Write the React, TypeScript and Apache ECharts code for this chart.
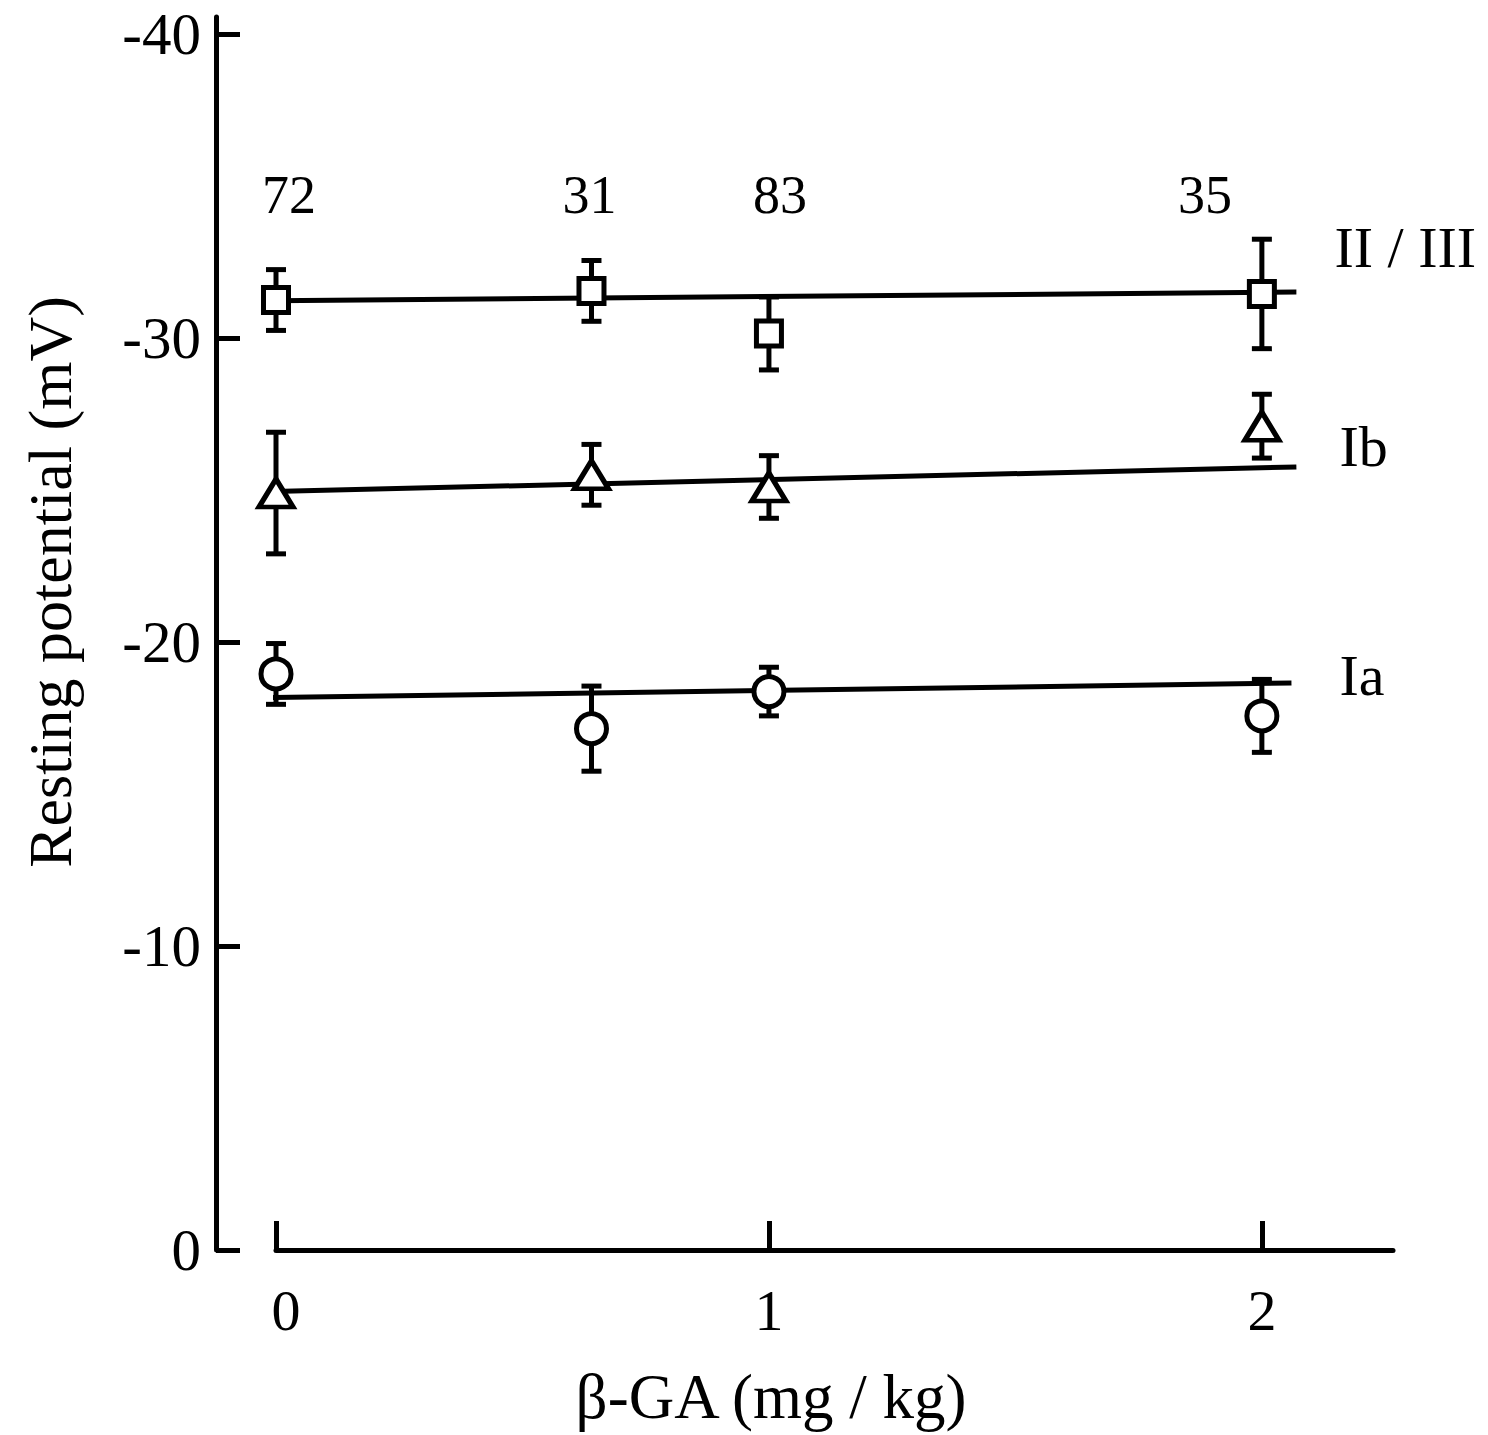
import React, { useEffect, useRef } from "react";
import * as echarts from "echarts";

// ---- data ----
const doses = [0, 0.64, 1, 2];
const nCounts = [72, 31, 83, 35];

const grpIIIIIMean = [-31.25, -31.55, -30.15, -31.45];
const grpIIIIIErr = [1.0, 1.0, 1.2, 1.8];

const grpIbMean = [-24.9, -25.5, -25.1, -27.1];
const grpIbErr = [2.0, 1.0, 1.03, 1.05];

const grpIaMean = [-18.95, -17.15, -18.37, -17.57];
const grpIaErr = [1.0, 1.4, 0.8, 1.2];

// regression lines: [x, y] at both ends
const fitIIIII = [[-0.067, -31.22], [2.07, -31.51]];
const fitIb = [[-0.057, -24.93], [2.07, -25.76]];
const fitIa = [[-0.065, -18.16], [2.06, -18.65]];

const yTicks = [-40, -30, -20, -10, 0];
const xTicks = [0, 1, 2];

const FONT = "'Liberation Serif', 'Times New Roman', serif";

function errorBarSeries(name: string, means: number[], errs: number[]) {
  return {
    type: "custom",
    name: name + "-err",
    z: 2,
    clip: false,
    data: doses.map((d, i) => [d, means[i], errs[i]]),
    renderItem: (params: any, api: any) => {
      const x = api.value(0);
      const y = api.value(1);
      const e = api.value(2);
      const a = api.coord([x, y - e]);
      const b = api.coord([x, y + e]);
      const hw = 10;
      const st = { stroke: "#000", lineWidth: 5 };
      return {
        type: "group",
        children: [
          { type: "line", shape: { x1: a[0], y1: a[1], x2: b[0], y2: b[1] }, style: st },
          { type: "line", shape: { x1: a[0] - hw, y1: a[1], x2: a[0] + hw, y2: a[1] }, style: st },
          { type: "line", shape: { x1: b[0] - hw, y1: b[1], x2: b[0] + hw, y2: b[1] }, style: st },
        ],
      };
    },
  };
}

function markerSeries(name: string, means: number[], symbol: string, size: any) {
  return {
    type: "scatter",
    name,
    z: 3,
    clip: false,
    symbol,
    symbolSize: size,
    itemStyle: { color: "#fff", borderColor: "#000", borderWidth: 5, opacity: 1 },
    data: doses.map((d, i) => [d, means[i]]),
  };
}

function fitSeries(name: string, pts: number[][], offset: number[]) {
  return {
    type: "line",
    name,
    z: 1,
    clip: false,
    showSymbol: false,
    symbol: "none",
    lineStyle: { color: "#000", width: 5 },
    data: pts,
    endLabel: {
      show: true,
      formatter: name,
      distance: 0,
      offset,
      color: "#000",
      fontFamily: FONT,
      fontSize: 58,
      align: "left",
      verticalAlign: "middle",
    },
  };
}

const nLabelOffsets = [13, -2, 11, -57];
const N_LEVEL = -34.7;

export default function App() {
  const ref = useRef<HTMLDivElement>(null);
  useEffect(() => {
    document.body.style.margin = "0";
    const chart = echarts.init(ref.current!, undefined, { renderer: "svg" });
    chart.setOption({
      animation: false,
      backgroundColor: "#fff",
      grid: { left: 276, right: 95, top: 17, bottom: 185, containLabel: false },
      xAxis: {
        type: "value",
        min: 0,
        max: 2.266,
        axisLine: { show: true, lineStyle: { color: "#000", width: 5 } },
        axisTick: { show: true, inside: true, length: 29, customValues: xTicks, lineStyle: { color: "#000", width: 5 } },
        axisLabel: {
          customValues: xTicks,
          color: "#000",
          fontFamily: FONT,
          fontSize: 58,
          margin: 31,
          formatter: (v: number) => (v === 0 ? "{z|0}" : String(v)),
          rich: { z: { fontFamily: FONT, fontSize: 58, color: "#000", padding: [0, 0, 0, 20] } },
        },
        splitLine: { show: false },
      },
      yAxis: {
        type: "value",
        inverse: true,
        min: -40.56,
        max: 0,
        offset: 60,
        axisLine: { show: true, onZero: false, lineStyle: { color: "#000", width: 5 } },
        axisTick: { show: true, inside: true, length: 24, customValues: yTicks, lineStyle: { color: "#000", width: 5 } },
        axisLabel: { customValues: yTicks, color: "#000", fontFamily: FONT, fontSize: 59, margin: 15 },
        splitLine: { show: false },
      },
      graphic: [
        {
          type: "text",
          x: 771,
          y: 1397,
          style: { text: "β-GA (mg / kg)", fill: "#000", font: `63px ${FONT}`, textAlign: "center", textVerticalAlign: "middle" },
        },
        {
          type: "text",
          x: 50,
          y: 582,
          rotation: Math.PI / 2,
          style: { text: "Resting potential (mV)", fill: "#000", font: `62px ${FONT}`, textAlign: "center", textVerticalAlign: "middle" },
        },
      ],
      series: [
        fitSeries("II / III", fitIIIII, [38, -45]),
        fitSeries("Ib", fitIb, [43, -20]),
        fitSeries("Ia", fitIa, [48, -8]),
        errorBarSeries("II / III", grpIIIIIMean, grpIIIIIErr),
        errorBarSeries("Ib", grpIbMean, grpIbErr),
        errorBarSeries("Ia", grpIaMean, grpIaErr),
        markerSeries("II / III sq", grpIIIIIMean, "rect", 25),
        markerSeries("Ib tri", grpIbMean, "triangle", [34, 28]),
        markerSeries("Ia circ", grpIaMean, "circle", 30),
        {
          type: "scatter",
          name: "n",
          symbolSize: 0,
          clip: false,
          silent: true,
          itemStyle: { opacity: 1, color: "#000" },
          data: doses.map((d, i) => ({
            value: [d, N_LEVEL, nCounts[i]],
            label: { offset: [nLabelOffsets[i], 0] },
          })),
          label: {
            show: true,
            position: "inside",
            formatter: (p: any) => String(p.value[2]),
            color: "#000",
            opacity: 1,
            fontFamily: FONT,
            fontSize: 54,
          },
        },
      ],
    });
    return () => chart.dispose();
  }, []);
  return <div ref={ref} style={{ width: 1488, height: 1435, position: "absolute", left: 0, top: 0 }} />;
}
